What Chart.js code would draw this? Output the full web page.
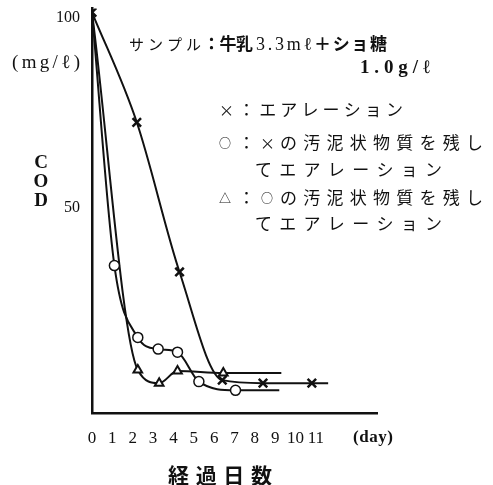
<!DOCTYPE html>
<html>
<head>
<meta charset="utf-8">
<script src="https://cdn.jsdelivr.net/npm/chart.js@4.4.1/dist/chart.umd.min.js"></script>
<style>
  html, body { margin: 0; background: #fff; }
  #wrap { width: 493px; height: 485px; position: relative; }
</style>
</head>
<body>
<div id="wrap"><canvas id="c"></canvas></div>
<script>
// × : aeration
const aerDays = [0, 2.2, 4.3, 6.4, 8.4, 10.8, 11.6];
const aerCod  = [100, 70.9, 31.3, 2.7, 1.9, 1.9, 1.9];
// ○ : aeration leaving the sludge of ×
const circDays = [0, 1.1, 2.25, 3.25, 4.2, 5.25, 7.05, 9.2];
const circCod  = [100, 33, 14, 10.9, 10.1, 2.3, 0, 0];
// △ : aeration leaving the sludge of ○
const triDays = [0, 2.25, 3.3, 4.2, 6.45, 9.3];
const triCod  = [100, 5.4, 1.9, 5.1, 4.6, 4.6];

const dayTicks = [0, 1, 2, 3, 4, 5, 6, 7, 8, 9, 10, 11];
const codTicks = [50, 100];

const pts = (xs, ys) => xs.map((x, i) => ({ x, y: ys[i] }));
const JP = '"Noto Sans CJK JP", "DejaVu Sans"';
const SERIF = '"Liberation Serif", "DejaVu Serif", serif';

// spread text over a given width, char by char
function spread(ctx, txt, x, y, w, font) {
  ctx.font = font;
  const chars = [...txt];
  const widths = chars.map(c => ctx.measureText(c).width);
  const total = widths.reduce((a, b) => a + b, 0);
  const gap = chars.length > 1 ? (w - total) / (chars.length - 1) : 0;
  let cx = x;
  chars.forEach((c, i) => { ctx.fillText(c, cx, y); cx += widths[i] + gap; });
}

const notes = {
  id: 'notes',
  afterDraw(chart) {
    const ctx = chart.ctx;
    ctx.save();
    ctx.fillStyle = '#111';
    ctx.textAlign = 'left';
    ctx.textBaseline = 'middle';
    spread(ctx, 'サンプル', 129, 44, 72, `15px ${JP}`);
    spread(ctx, '：牛乳', 203, 44, 50, `bold 17px ${JP}`);
    spread(ctx, '3.3mℓ', 256, 45, 56, `18px ${SERIF}`);
    spread(ctx, '＋ショ糖', 314, 44, 73, `bold 17px ${JP}`);
    spread(ctx, '1.0g/ℓ', 360, 68, 70, `bold 19px ${SERIF}`);

    const lf = `17px ${JP}`;
    const sym = `12px ${JP}`;
    ctx.font = `15px ${JP}`;
    ctx.fillText('×', 219, 110);
    spread(ctx, '：エアレーション', 238, 110, 165, lf);
    ctx.font = sym;
    ctx.fillText('○', 219, 143);
    spread(ctx, '：', 238, 143, 17, lf);
    ctx.font = `15px ${JP}`;
    ctx.fillText('×', 260, 143);
    spread(ctx, 'の汚泥状物質を残し', 280, 143, 203, lf);
    spread(ctx, 'てエアレーション', 255, 170, 187, lf);
    ctx.font = sym;
    ctx.fillText('△', 219, 198);
    spread(ctx, '：', 238, 198, 17, lf);
    ctx.font = sym;
    ctx.fillText('○', 261, 198);
    spread(ctx, 'の汚泥状物質を残し', 280, 198, 203, lf);
    spread(ctx, 'てエアレーション', 255, 224, 187, lf);

    spread(ctx, '(mg/ℓ)', 12, 63, 68, `19px ${SERIF}`);
    ctx.textAlign = 'center';
    ctx.font = `bold 19px ${SERIF}`;
    ctx.fillText('C', 41, 163);
    ctx.fillText('O', 41, 182);
    ctx.fillText('D', 41, 201);
    ctx.textAlign = 'left';
    spread(ctx, '(day)', 353, 438, 40, `bold 17px ${SERIF}`);
    spread(ctx, '経過日数', 168, 475, 104, `bold 21px ${JP}`);
    ctx.restore();
  }
};

const base = {
  borderColor: '#111',
  borderWidth: 2,
  cubicInterpolationMode: 'monotone',
  pointBorderColor: '#111',
  pointBackgroundColor: '#fff',
  fill: false
};

new Chart(document.getElementById('c'), {
  type: 'line',
  data: {
    datasets: [
      { ...base, label: '×', data: pts(aerDays, aerCod), pointStyle: 'crossRot',
        pointRadius: [6, 6, 6, 6, 6, 6, 0], pointBorderWidth: 2.5 },
      { ...base, label: '○', data: pts(circDays, circCod), pointStyle: 'circle',
        pointRadius: [0, 5, 5, 5, 5, 5, 5, 0], pointBorderWidth: 1.5 },
      { ...base, label: '△', data: pts(triDays, triCod), pointStyle: 'triangle',
        pointRadius: [0, 5, 5, 5, 5, 0], pointBorderWidth: 2 }
    ]
  },
  options: {
    responsive: true,
    maintainAspectRatio: false,
    animation: false,
    layout: { padding: { top: 8, right: 116, left: 0, bottom: 0 } },
    plugins: { legend: { display: false }, tooltip: { enabled: false } },
    scales: {
      x: {
        type: 'linear', min: 0, max: 14,
        afterFit: s => { s.height = 72; s.paddingLeft = 0; s.paddingRight = 0; },
        afterBuildTicks: s => { s.ticks = dayTicks.map(v => ({ value: v })); },
        grid: { display: false, drawTicks: false },
        border: { color: '#111', width: 2.5 },
        ticks: { color: '#111', padding: 15, maxRotation: 0, autoSkip: false,
                 font: { family: SERIF, size: 17 } }
      },
      y: {
        min: -6, max: 101,
        afterFit: s => { s.width = 92; s.paddingTop = 0; s.paddingBottom = 0; },
        afterBuildTicks: s => { s.ticks = codTicks.map(v => ({ value: v })); },
        grid: { display: false, drawTicks: false },
        border: { color: '#111', width: 2.5 },
        ticks: { color: '#111', padding: 12, labelOffset: 6,
                 font: { family: SERIF, size: 16 } }
      }
    }
  },
  plugins: [notes]
});
</script>
</body>
</html>
